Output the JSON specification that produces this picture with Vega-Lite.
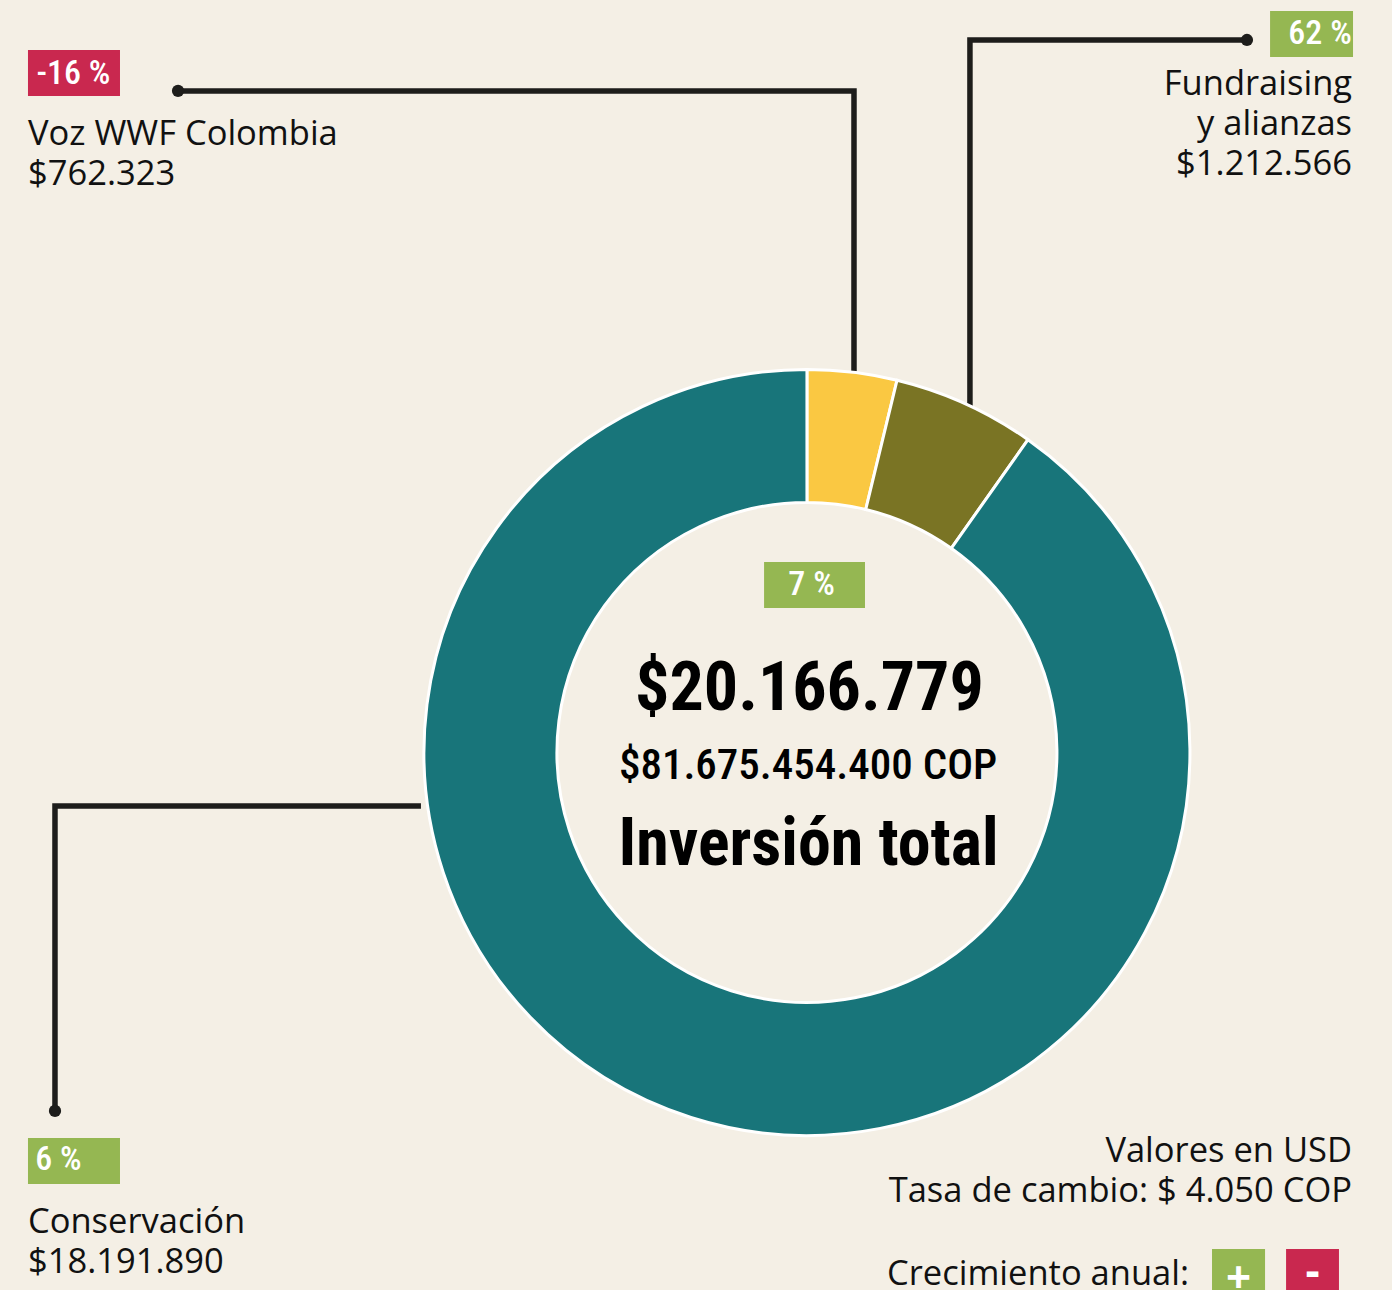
{
  "$schema": "https://vega.github.io/schema/vega-lite/v6.json",
  "autosize": "none",
  "width": 1392,
  "height": 1290,
  "padding": 0,
  "background": "#F4EFE5",
  "config": {"view": {"stroke": null}},
  "resolve": {"scale": {"color": "independent"}},
  "datasets": {
    "slices": [
      {"categoria": "Voz WWF Colombia", "valor": 762323, "orden": 1},
      {"categoria": "Fundraising y alianzas", "valor": 1212566, "orden": 2},
      {"categoria": "Conservación", "valor": 18191890, "orden": 3}
    ],
    "leaders": [
      {"leader": "voz", "seq": 1, "x": 12.79, "y": 7.05},
      {"leader": "voz", "seq": 2, "x": 61.35, "y": 7.05},
      {"leader": "voz", "seq": 3, "x": 61.35, "y": 29.46},
      {"leader": "fund", "seq": 1, "x": 89.58, "y": 3.10},
      {"leader": "fund", "seq": 2, "x": 69.68, "y": 3.10},
      {"leader": "fund", "seq": 3, "x": 69.68, "y": 31.94},
      {"leader": "cons", "seq": 1, "x": 30.24, "y": 62.48},
      {"leader": "cons", "seq": 2, "x": 3.95, "y": 62.48},
      {"leader": "cons", "seq": 3, "x": 3.95, "y": 86.12}
    ],
    "dots": [
      {"leader": "voz", "x": 12.79, "y": 7.05},
      {"leader": "fund", "x": 89.58, "y": 3.10},
      {"leader": "cons", "x": 3.95, "y": 86.12}
    ],
    "boxes": [
      {"tipo": "neg", "x": 2.01, "x2": 8.62, "y": 3.88, "y2": 7.44},
      {"tipo": "pos", "x": 91.24, "x2": 97.20, "y": 0.85, "y2": 4.42},
      {"tipo": "pos", "x": 54.89, "x2": 62.14, "y": 43.57, "y2": 47.13},
      {"tipo": "pos", "x": 2.01, "x2": 8.62, "y": 88.22, "y2": 91.78},
      {"tipo": "pos", "x": 87.07, "x2": 90.88, "y": 96.82, "y2": 100},
      {"tipo": "neg", "x": 92.39, "x2": 96.19, "y": 96.82, "y2": 100}
    ],
    "badges": [
      {"text": "-16 %", "x": 5.28, "y": 6.52},
      {"text": "62 %", "x": 94.83, "y": 3.42},
      {"text": "7 %", "x": 58.30, "y": 46.13},
      {"text": "6 %", "x": 4.20, "y": 90.70}
    ],
    "signs": [
      {"text": "+", "x": 88.97, "y": 100.23},
      {"text": "-", "x": 94.29, "y": 99.72}
    ],
    "labels": [
      {"text": "Voz WWF Colombia", "x": 2.01, "y": 11.24, "side": "left"},
      {"text": "$762.323", "x": 2.01, "y": 14.34, "side": "left"},
      {"text": "Fundraising", "x": 97.13, "y": 7.36, "side": "right"},
      {"text": "y alianzas", "x": 97.13, "y": 10.47, "side": "right"},
      {"text": "$1.212.566", "x": 97.13, "y": 13.57, "side": "right"},
      {"text": "Conservación", "x": 2.01, "y": 95.58, "side": "left"},
      {"text": "$18.191.890", "x": 2.01, "y": 98.68, "side": "left"},
      {"text": "Valores en USD", "x": 97.13, "y": 90.08, "side": "right"},
      {"text": "Tasa de cambio: $ 4.050 COP", "x": 97.13, "y": 93.18, "side": "right"},
      {"text": "Crecimiento anual:", "x": 63.72, "y": 99.61, "side": "left"}
    ],
    "center": [
      {"text": "$20.166.779", "x": 58.15, "y": 55.00, "nivel": "total"},
      {"text": "$81.675.454.400 COP", "x": 58.05, "y": 60.39, "nivel": "cop"},
      {"text": "Inversión total", "x": 58.08, "y": 67.09, "nivel": "titulo"}
    ]
  },
  "layer": [
    {
      "data": {"name": "leaders"},
      "mark": {"type": "line", "stroke": "#1D1D1B", "strokeWidth": 5.5, "strokeJoin": "miter", "strokeCap": "butt"},
      "encoding": {
        "x": {"field": "x", "type": "quantitative", "scale": {"domain": [0, 100], "nice": false, "zero": false}, "axis": null},
        "y": {"field": "y", "type": "quantitative", "scale": {"domain": [0, 100], "nice": false, "zero": false, "reverse": true}, "axis": null},
        "detail": {"field": "leader"},
        "order": {"field": "seq", "type": "quantitative"}
      }
    },
    {
      "data": {"name": "dots"},
      "mark": {"type": "circle", "color": "#1D1D1B", "size": 150, "opacity": 1},
      "encoding": {
        "x": {"field": "x", "type": "quantitative"},
        "y": {"field": "y", "type": "quantitative"}
      }
    },
    {
      "data": {"name": "slices"},
      "mark": {"type": "arc", "outerRadius": 383, "innerRadius": 250, "stroke": "#FFFFFF", "strokeWidth": 3},
      "encoding": {
        "x": {"datum": 57.97, "type": "quantitative"},
        "y": {"datum": 58.33, "type": "quantitative"},
        "theta": {"field": "valor", "type": "quantitative", "stack": true},
        "order": {"field": "orden", "type": "quantitative"},
        "color": {"field": "categoria", "type": "nominal", "legend": null,
          "scale": {"domain": ["Voz WWF Colombia", "Fundraising y alianzas", "Conservación"], "range": ["#FAC842", "#7A7424", "#18757A"]}}
      }
    },
    {
      "data": {"name": "boxes"},
      "mark": {"type": "rect"},
      "encoding": {
        "x": {"field": "x", "type": "quantitative"},
        "x2": {"field": "x2"},
        "y": {"field": "y", "type": "quantitative"},
        "y2": {"field": "y2"},
        "color": {"field": "tipo", "type": "nominal", "legend": null, "scale": {"domain": ["pos", "neg"], "range": ["#95B752", "#C9284F"]}}
      }
    },
    {
      "data": {"name": "badges"},
      "mark": {"type": "text", "align": "center", "baseline": "alphabetic", "font": "Roboto Condensed", "fontWeight": 500, "fontSize": 34, "color": "#FFFFFF"},
      "encoding": {
        "x": {"field": "x", "type": "quantitative"},
        "y": {"field": "y", "type": "quantitative"},
        "text": {"field": "text"}
      }
    },
    {
      "data": {"name": "signs"},
      "mark": {"type": "text", "align": "center", "baseline": "alphabetic", "font": "Open Sans", "fontWeight": "bold", "fontSize": 44, "color": "#FFFFFF"},
      "encoding": {
        "x": {"field": "x", "type": "quantitative"},
        "y": {"field": "y", "type": "quantitative"},
        "text": {"field": "text"}
      }
    },
    {
      "data": {"name": "labels"},
      "transform": [{"filter": "datum.side === 'left'"}],
      "mark": {"type": "text", "align": "left", "baseline": "alphabetic", "font": "Open Sans", "fontSize": 34.5, "color": "#111111"},
      "encoding": {
        "x": {"field": "x", "type": "quantitative"},
        "y": {"field": "y", "type": "quantitative"},
        "text": {"field": "text"}
      }
    },
    {
      "data": {"name": "labels"},
      "transform": [{"filter": "datum.side === 'right'"}],
      "mark": {"type": "text", "align": "right", "baseline": "alphabetic", "font": "Open Sans", "fontSize": 34.5, "color": "#111111"},
      "encoding": {
        "x": {"field": "x", "type": "quantitative"},
        "y": {"field": "y", "type": "quantitative"},
        "text": {"field": "text"}
      }
    },
    {
      "data": {"name": "center"},
      "transform": [{"filter": "datum.nivel === 'total'"}],
      "mark": {"type": "text", "align": "center", "baseline": "alphabetic", "font": "Roboto Condensed", "fontWeight": "bold", "fontSize": 68, "color": "#000000"},
      "encoding": {
        "x": {"field": "x", "type": "quantitative"},
        "y": {"field": "y", "type": "quantitative"},
        "text": {"field": "text"}
      }
    },
    {
      "data": {"name": "center"},
      "transform": [{"filter": "datum.nivel === 'cop'"}],
      "mark": {"type": "text", "align": "center", "baseline": "alphabetic", "font": "Roboto Condensed", "fontWeight": 500, "fontSize": 43, "color": "#000000"},
      "encoding": {
        "x": {"field": "x", "type": "quantitative"},
        "y": {"field": "y", "type": "quantitative"},
        "text": {"field": "text"}
      }
    },
    {
      "data": {"name": "center"},
      "transform": [{"filter": "datum.nivel === 'titulo'"}],
      "mark": {"type": "text", "align": "center", "baseline": "alphabetic", "font": "Roboto Condensed", "fontWeight": "bold", "fontSize": 66, "color": "#000000"},
      "encoding": {
        "x": {"field": "x", "type": "quantitative"},
        "y": {"field": "y", "type": "quantitative"},
        "text": {"field": "text"}
      }
    }
  ]
}
